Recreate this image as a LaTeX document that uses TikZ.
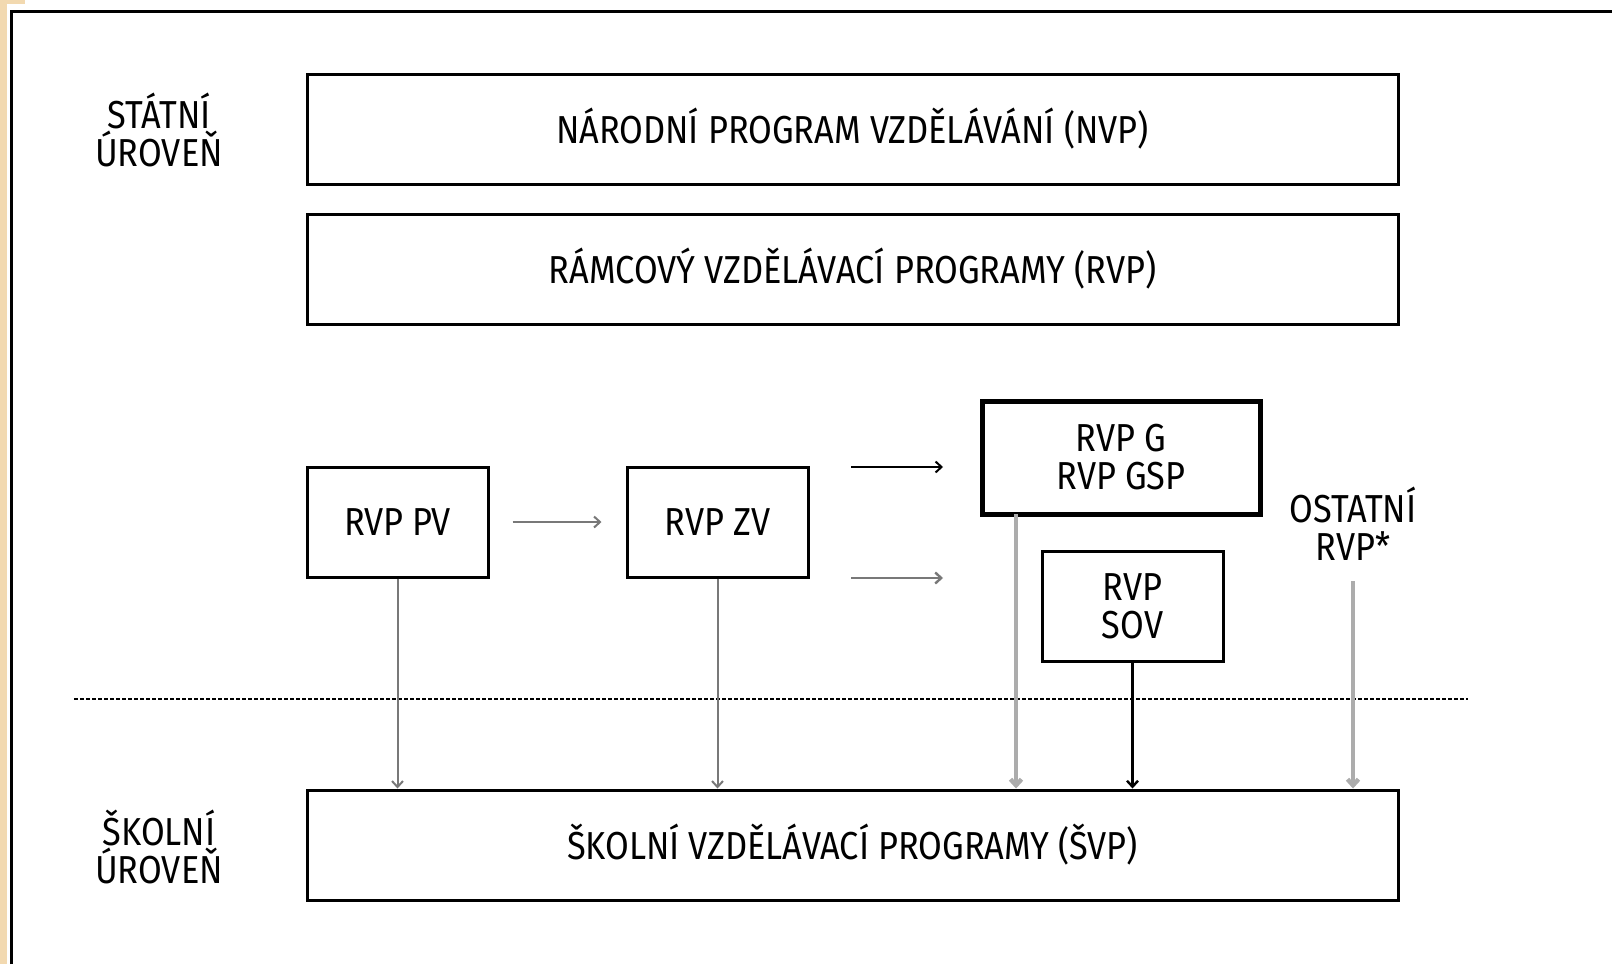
\documentclass[tikz,border=0pt]{standalone}
\usepackage{fontspec}
\setmainfont[FakeStretch=0.88]{Fira Sans}
\usetikzlibrary{arrows.meta}

\definecolor{beige}{RGB}{242,217,176}
\definecolor{midgray}{RGB}{120,120,120}
\definecolor{lightgray}{RGB}{172,172,172}

\tikzset{
	box/.style={draw, line width=1.5pt, inner sep=0pt, align=center,
		font=\fontsize{19.5}{19}\selectfont},
	widebox/.style={box, minimum width=545.5pt, minimum height=55pt},
	smallbox/.style={box, minimum width=90.5pt, minimum height=55pt},
	level/.style={align=center, font=\fontsize{19.5}{19}\selectfont},
}

\begin{document}
\begin{tikzpicture}[x=0.5pt,y=-0.5pt,>={Straight Barb[length=3pt,width=5.5pt]}]
				\useasboundingbox (0,0) rectangle (1612,964);
				\fill[white] (0,0) rectangle (1612,964);
				\fill[beige] (0,0) rectangle (7,964);
				\fill[beige] (0,0) rectangle (25,4);
				\draw[line width=1.7pt] (11.5,964) -- (11.5,11.5) -- (1612,11.5);

				% state level
				\path (159,129.5) node[level] (statni) {STÁTNÍ\\ÚROVEŇ};
				\path (852.5,129) node[widebox] (nvp) {NÁRODNÍ PROGRAM VZDĚLÁVÁNÍ (NVP)};
				\path (852.5,269) node[widebox] (rvp) {RÁMCOVÝ VZDĚLÁVACÍ PROGRAMY (RVP)};

				\path (397.5,522) node[smallbox] (pv) {RVP PV};
				\path (717.5,522) node[smallbox] (zv) {RVP ZV};
				\path (1121,457.5) node[box, line width=2.5pt, minimum width=139pt, minimum height=56.5pt] (g) {RVP G\\RVP GSP};
				\path (1132.5,606) node[smallbox] (sov) {RVP\\SOV};
				\path (1353,523.5) node[level] (ostatni) {OSTATNÍ\\RVP*};

				% school level
				\path (159,846.5) node[level] (skolni) {ŠKOLNÍ\\ÚROVEŇ};
				\path (852.5,845) node[widebox] (svp) {ŠKOLNÍ VZDĚLÁVACÍ PROGRAMY (ŠVP)};

				\draw[dash pattern=on 2pt off 1pt, line width=1.3pt] (74,699) -- (1468,699);

				\draw[->, midgray, line width=1pt, shorten <=11.5pt, shorten >=12pt] (pv.east) -- (zv.west);
				\coordinate (upa) at (851,467);
				\coordinate (upb) at (943,467);
				\coordinate (loa) at (851,578);
				\coordinate (lob) at (943,578);
				\draw[->, line width=1pt] (upa) -- (upb);
				\draw[->, midgray, line width=1.2pt] (loa) -- (lob);

				\draw[->, midgray, line width=1pt] (pv.south) -- (pv.south |- svp.north);
				\draw[->, midgray, line width=1pt] (zv.south) -- (zv.south |- svp.north);
				\coordinate (gfoot) at (1016,514);
				\draw[->, lightgray, line width=2.2pt] (gfoot) -- (gfoot |- svp.north);
				\draw[->, line width=1.2pt] (sov.south) -- (sov.south |- svp.north);
				\coordinate (ofoot) at (1353,581);
				\draw[->, lightgray, line width=2.2pt] (ofoot) -- (ofoot |- svp.north);
			\end{tikzpicture}
\end{document}
